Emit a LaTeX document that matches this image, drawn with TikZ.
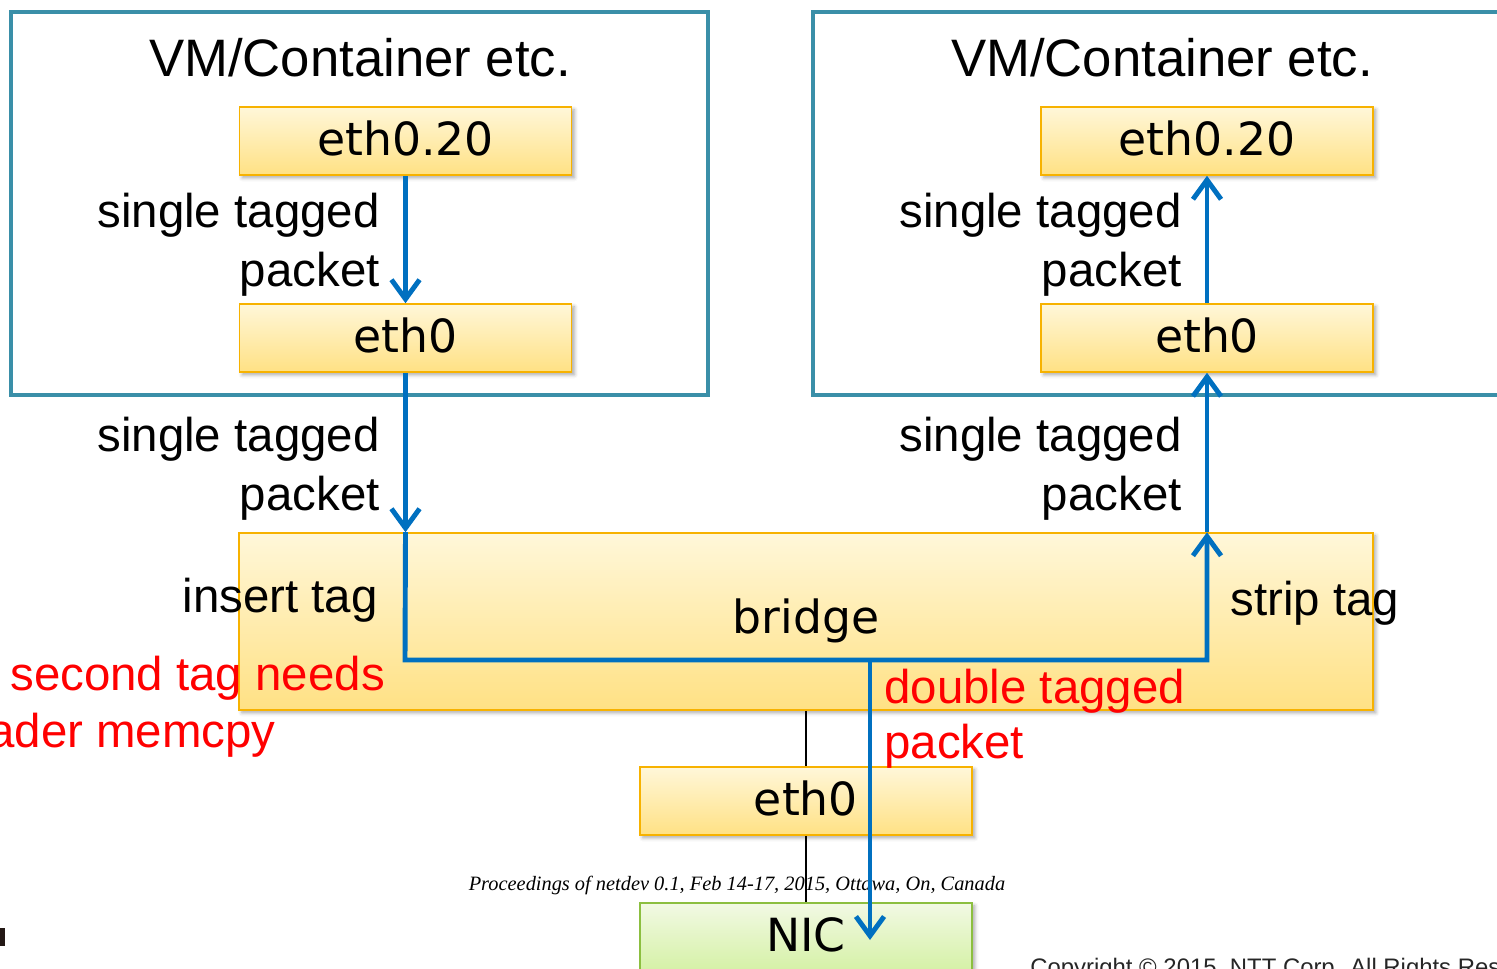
\documentclass[tikz,border=0pt]{standalone}
\usepackage{fontspec}
\setmainfont{Liberation Sans}
\newfontfamily\ifacefont{DejaVu Sans}
\newfontfamily\footfont{Liberation Serif}
\usepackage{tikz}
\usepackage{xcolor}
\usetikzlibrary{arrows.meta, positioning, calc, shadows.blur}
\definecolor{ink}{HTML}{000000}
\definecolor{vmedge}{HTML}{3A8FA8}
\definecolor{ifedge}{HTML}{F7B200}
\definecolor{iftop}{HTML}{FFF7D9}
\definecolor{ifbot}{HTML}{FFE184}
\definecolor{nicedge}{HTML}{8CBF40}
\definecolor{nictop}{HTML}{F2F9E4}
\definecolor{nicbot}{HTML}{D5F1A6}
\definecolor{pkt}{HTML}{0070C0}
\definecolor{warn}{HTML}{FF0000}
\definecolor{edgemark}{HTML}{231815}
\tikzset{
  font=\fontsize{27}{33}\selectfont,
  %
  vm/.style={draw=vmedge, line width=2.4pt, inner sep=0pt},
  iface/.style={
    draw=ifedge, line width=0.9pt, top color=iftop, bottom color=ifbot,
    inner sep=0pt, minimum width=6.64cm, minimum height=1.36cm,
    font=\ifacefont\fontsize{26}{30}\selectfont, text=ink,
    text height=20pt, text depth=4pt,
    blur shadow={shadow xshift=1.6pt, shadow yshift=-1.6pt,
                 shadow blur steps=4, shadow opacity=35},
  },
  nicbox/.style={iface, draw=nicedge, top color=nictop, bottom color=nicbot},
  %
  flow/.style={draw=pkt, line width=2.8pt,
               -{Straight Barb[length=11pt, width=16pt]}},
  wire/.style={draw=ink, line width=0.8pt},
  %
  lbl/.style={inner sep=0pt, text=ink, align=right},
  lblred/.style={inner sep=0pt, text=warn, align=left},
  title/.style={inner sep=0pt, text=ink, font=\fontsize{30}{36}\selectfont},
}

\begin{document}
\begin{tikzpicture}[x=0.02cm, y=-0.02cm]
\useasboundingbox (0,0) rectangle (1497,969);

% ------------------------------------------------------------- guests
\node[vm, minimum width=13.94cm, minimum height=7.66cm] (vml) at (359.5,203.5) {};
\node[vm, minimum width=13.94cm, minimum height=7.66cm] (vmr) at (1161.5,203.5) {};
\node[title, anchor=base] (tl) at (360,77) {VM/Container etc.};
\node[title, anchor=base] (tr) at (1162,77) {VM/Container etc.};

\node[iface] (l20) at (405.5,141) {eth0.20};
\node[iface] (l0)  at (405.5,338) {eth0};
\node[iface] (r20) at (1207,141) {eth0.20};
\node[iface] (r0)  at (1207,338) {eth0};

% ------------------------------------------------------------- host
\node[iface, minimum width=22.68cm, minimum height=3.54cm] (br) at (806,621.5) {};
\node[inner sep=0pt, font=\ifacefont\fontsize{26}{30}\selectfont, anchor=base]
  (brt) at (806,633) {bridge};
\node[iface] (e0) at (806,801) {eth0};
\node[nicbox] (nic) at (806,937) {NIC};

\draw[wire] (br.south) -- (e0.north);
\draw[wire] (e0.south) -- (nic.north);

\node[inner sep=0pt, font=\footfont\itshape\fontsize{11.6}{13}\selectfont, anchor=base]
  (foot) at (737,890) {Proceedings of netdev 0.1, Feb 14-17, 2015, Ottawa, On, Canada};

% ------------------------------------------------------------- labels
\node[lbl, anchor=base east] (s1) at (380,228) {single tagged};
\node[lbl, anchor=base east] (p1) at (380,287) {packet};
\node[lbl, anchor=base east] (s2) at (380,451) {single tagged};
\node[lbl, anchor=base east] (p2) at (380,510) {packet};
\node[lbl, anchor=base east] (s3) at (1182,228) {single tagged};
\node[lbl, anchor=base east] (p3) at (1182,287) {packet};
\node[lbl, anchor=base east] (s4) at (1182,451) {single tagged};
\node[lbl, anchor=base east] (p4) at (1182,510) {packet};

\node[lbl, anchor=base east] (ins) at (378,612) {insert tag};
\node[lbl, anchor=base west] (str) at (1230,615) {strip tag};

\node[lblred, anchor=base west] (dt) at (884,703) {double tagged};
\node[lblred, anchor=base west] (dp) at (884,758) {packet};
\node[lblred, anchor=base west] (w1) at (10,690) {second tag needs};
\node[lblred, anchor=base west] (w2) at (-12,747) {ader memcpy};

\node[inner sep=0pt, anchor=base west, font=\fontsize{13.6}{15}\selectfont, text=ink!85]
  (copy) at (1030,975) {Copyright \textcopyright{} 2015\ \ NTT Corp. All Rights Reserved.};
\fill[edgemark] (0,928) rectangle (5,946);

% ------------------------------------------------------------- packet path
\coordinate (turnl) at (405,660);
\coordinate (turnr) at (1207,660);
\coordinate (split) at (870,660);
\coordinate (nicin) at (870,940);

\draw[flow] (l20.south) -- (l0.north);
\draw[flow] (l0.south) -- (l0 |- br.north);
\draw[flow] (l0 |- br.north) -- (turnl) -- (turnr) -- (r0 |- br.north);
\draw[flow] (r0 |- br.north) -- (r0.south);
\draw[flow] (r0.north) -- (r20.south);
\draw[flow] (split) -- (nicin);

\end{tikzpicture}
\end{document}
